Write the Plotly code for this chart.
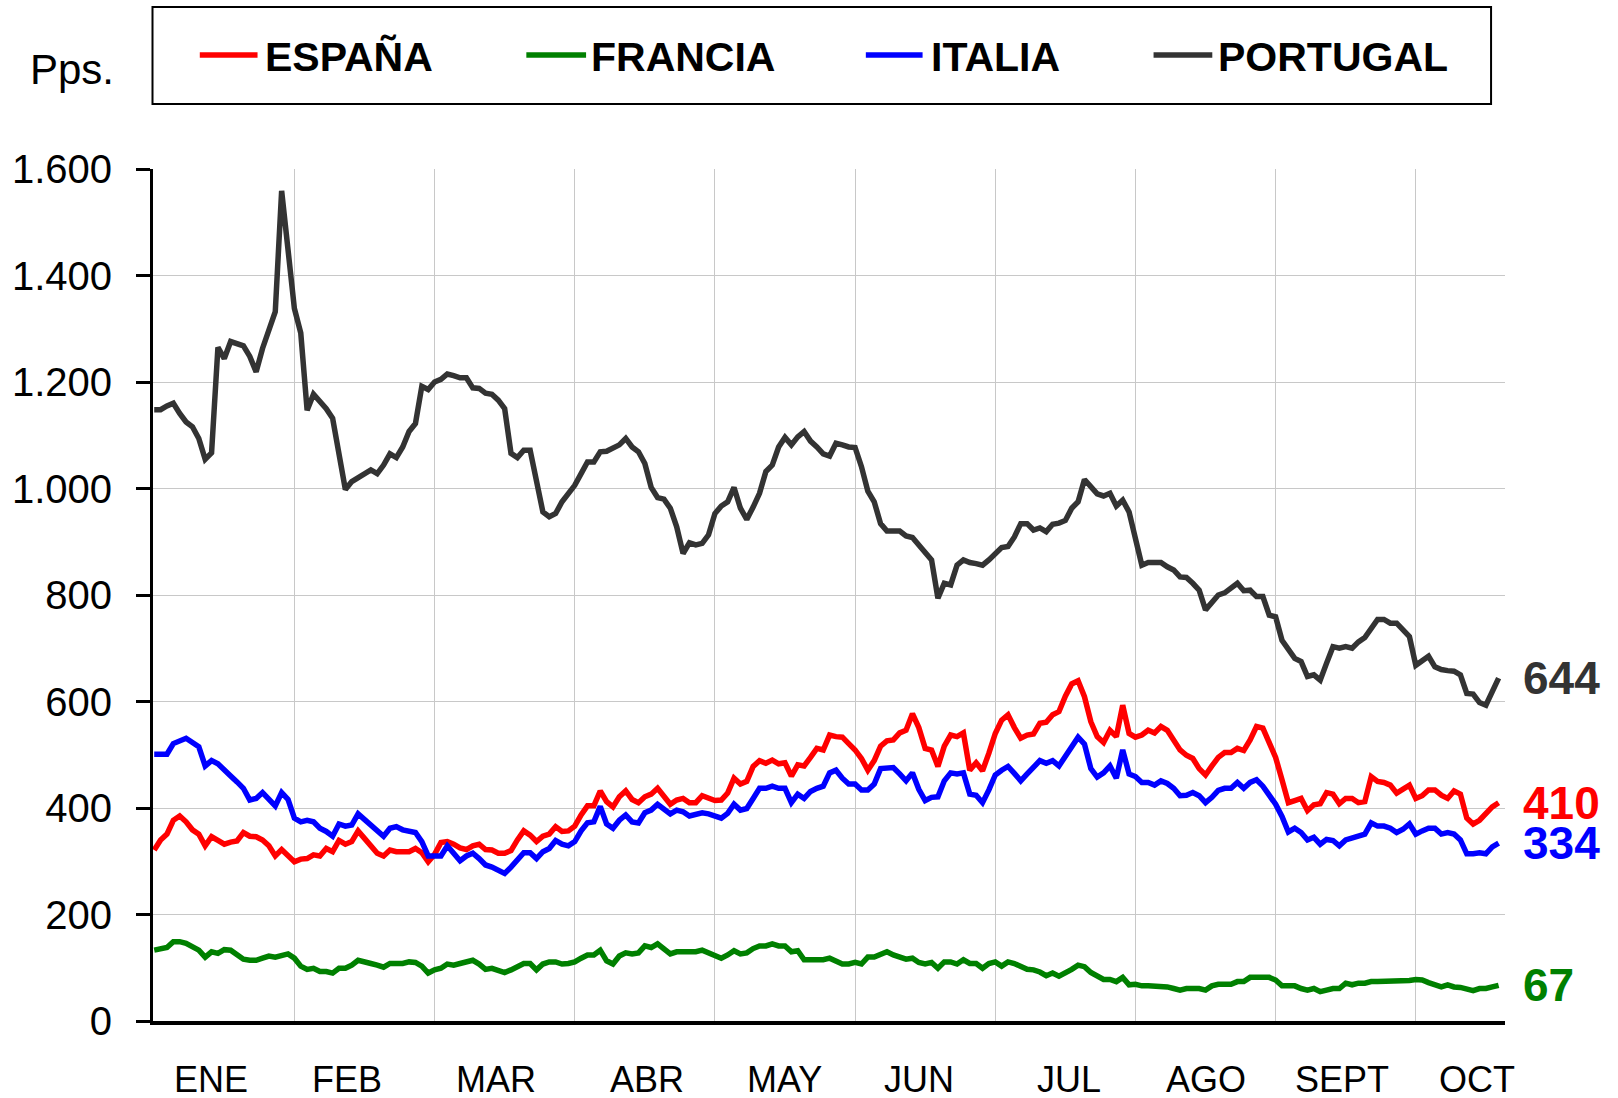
import plotly.graph_objects as go

# ---------------- data (daily closing values, Pps.) ----------------
series_names = ["ESPAÑA", "FRANCIA", "ITALIA", "PORTUGAL"]
series_colors = ["#ff0000", "#008000", "#0000ff", "#333333"]
month_labels = ["ENE", "FEB", "MAR", "ABR", "MAY", "JUN", "JUL", "AGO", "SEPT", "OCT"]
days_per_month_tick = 22  # category interval between vertical gridlines

espana = [
    321, 340, 351, 377, 385, 374, 359, 351, 329, 346,
    339, 332, 336, 338, 354, 347, 346, 340, 329, 310,
    322, 312, 299, 304, 305, 312, 310, 324, 318, 339,
    332, 337, 357, 343, 330, 315, 310, 321, 318, 318,
    318, 324, 316, 299, 313, 335, 337, 332, 325, 322,
    329, 332, 322, 321, 315, 315, 320, 340, 357, 349,
    337, 347, 351, 365, 356, 357, 366, 387, 404, 404,
    432, 412, 402, 421, 432, 416, 410, 421, 426, 437,
    421, 407, 415, 418, 410, 410, 423, 418, 414, 415,
    428, 456, 445, 450, 478, 489, 484, 490, 483, 485,
    460, 481, 479, 495, 512, 509, 537, 534, 533, 521,
    509, 493, 471, 489, 516, 526, 528, 541, 546, 577,
    551, 512, 509, 478, 516, 537, 534, 541, 471, 485,
    470, 503, 540, 565, 575, 551, 531, 537, 539, 559,
    561, 575, 581, 610, 633, 639, 609, 562, 534, 523,
    546, 534, 593, 540, 533, 537, 546, 541, 553, 546,
    529, 509, 499, 493, 474, 462, 479, 495, 504, 504,
    512, 508, 528, 553, 550, 521, 495, 453, 410, 414,
    418, 395, 406, 408, 429, 426, 408, 418, 418, 410,
    412, 459, 450, 448, 443, 428, 437, 443, 418, 423,
    434, 434, 424, 418, 432, 426, 381, 370, 377, 391,
    402, 410,
]

francia = [
    133, 136, 138, 149, 149, 146, 138, 133, 120, 130,
    127, 134, 133, 126, 116, 114, 114, 118, 122, 120,
    124, 126, 118, 103, 97, 99, 93, 93, 90, 99,
    99, 105, 114, 110, 108, 105, 101, 108, 108, 108,
    111, 110, 103, 90, 96, 99, 107, 105, 108, 110,
    114, 107, 97, 99, 94, 91, 96, 103, 108, 108,
    96, 107, 111, 111, 107, 108, 111, 118, 124, 124,
    133, 113, 107, 122, 128, 126, 128, 141, 138, 145,
    135, 126, 130, 130, 130, 130, 133, 128, 122, 118,
    124, 132, 126, 128, 136, 141, 141, 145, 141, 141,
    130, 132, 115, 115, 115, 115, 118, 113, 107, 107,
    110, 107, 120, 120, 124, 130, 124, 120, 116, 118,
    110, 107, 110, 99, 111, 111, 107, 115, 108, 108,
    99, 108, 111, 103, 111, 108, 103, 97, 96, 92,
    85, 90, 84, 90, 97, 105, 102, 91, 83, 78,
    78, 74, 82, 68, 69, 66, 66, 66, 66, 64,
    61, 58, 61, 61, 61, 58, 66, 69, 69, 69,
    74, 74, 82, 82, 82, 82, 77, 66, 66, 66,
    61, 58, 61, 55, 58, 61, 61, 71, 68, 71,
    71, 74, 74, 74, 74, 74, 74, 76, 78, 77,
    72, 68, 64, 68, 64, 63, 59, 57, 61, 61,
    64, 67,
]

italia = [
    501, 501, 501, 521, 526, 531, 523, 515, 479, 489,
    483, 470, 460, 449, 437, 415, 418, 429, 415, 404,
    429, 416, 381, 374, 377, 374, 362, 356, 347, 370,
    366, 368, 389, 379, 366, 356, 347, 362, 365, 359,
    357, 354, 337, 310, 310, 310, 329, 315, 301, 310,
    315, 305, 293, 289, 282, 277, 289, 301, 316, 316,
    305, 318, 324, 339, 332, 329, 337, 357, 372, 374,
    403, 370, 362, 377, 387, 374, 372, 391, 396, 407,
    397, 389, 396, 393, 385, 387, 391, 389, 384, 381,
    390, 407, 396, 399, 418, 437, 437, 441, 437, 437,
    410, 426, 418, 431, 437, 441, 466, 471, 456, 445,
    445, 434, 434, 445, 474, 476, 476, 464, 451, 466,
    435, 414, 420, 421, 451, 466, 464, 466, 426, 424,
    410, 434, 462, 471, 478, 465, 451, 464, 476, 489,
    484, 489, 479, 498, 514, 533, 520, 474, 458, 466,
    479, 456, 509, 464, 459, 448, 448, 443, 451, 446,
    437, 423, 424, 429, 423, 410, 420, 433, 437, 437,
    448, 437, 448, 453, 441, 426, 407, 384, 355, 362,
    354, 340, 345, 332, 341, 339, 329, 340, 343, 347,
    351, 372, 366, 366, 362, 354, 360, 370, 351, 357,
    362, 362, 351, 354, 351, 340, 314, 314, 316, 314,
    327, 334,
]

portugal = [
    1148, 1148, 1155, 1160, 1141, 1125, 1116, 1094, 1055, 1067,
    1265, 1244, 1276, 1272, 1268, 1248, 1219, 1263, 1301, 1332,
    1559, 1450, 1338, 1292, 1147, 1177, 1163, 1150, 1132, 1060,
    998, 1013, 1021, 1027, 1035, 1028, 1044, 1065, 1058, 1078,
    1107, 1122, 1192, 1186, 1200, 1205, 1215, 1212, 1208, 1208,
    1189, 1188, 1179, 1177, 1166, 1150, 1066, 1058, 1072, 1072,
    1019, 956, 947, 953, 975, 991, 1006, 1028, 1050, 1050,
    1069, 1070, 1077, 1082, 1094, 1078, 1069, 1047, 1002, 983,
    980, 963, 928, 878, 898, 894, 897, 913, 953, 967,
    975, 1002, 963, 942, 965, 991, 1032, 1044, 1078, 1096,
    1082, 1097, 1107, 1089, 1078, 1065, 1061, 1085, 1082, 1078,
    1077, 1041, 995, 975, 934, 920, 920, 920, 911, 908,
    894, 881, 866, 794, 822, 819, 856, 866, 861, 859,
    856, 866, 878, 889, 891, 909, 934, 934, 922, 926,
    919, 933, 935, 940, 963, 975, 1017, 1002, 990, 986,
    991, 967, 978, 956, 909, 856, 861, 861, 861, 853,
    847, 834, 833, 822, 809, 772, 785, 800, 804, 814,
    822, 808, 809, 797, 797, 762, 759, 715, 700, 681,
    675, 647, 650, 640, 672, 703, 700, 703, 700, 712,
    720, 737, 754, 754, 747, 747, 735, 722, 668, 678,
    685, 665, 660, 658, 657, 650, 615, 614, 598, 593,
    618, 644,
]

# ---------------- layout helpers (positions / styles) ----------------
FONT = "Arial, Liberation Sans, sans-serif"
W, H = 1618, 1098
PL, PR, PT, PB = 147, 1505, 169, 1021  # plot area in px


def px_x(px):
    return (px - PL) / (PR - PL)


def px_y(py):
    return (PB - py) / (PB - PT)


month_label_pos = [8.9, 30.3, 53.7, 77.3, 98.9, 120.0, 143.6, 165.0, 186.4, 207.6]

all_series = [espana, francia, italia, portugal]
n = len(espana)
x = list(range(n))

fig = go.Figure()
for name, color, vals in zip(series_names, series_colors, all_series):
    fig.add_trace(go.Scatter(
        x=x[:len(vals)], y=vals, mode="lines", name=name,
        line=dict(color=color, width=5.5), showlegend=False,
    ))

shapes = []
annotations = []

# legend box
shapes.append(dict(type="rect", xref="paper", yref="paper",
                   x0=px_x(146.5), x1=px_x(1491), y0=px_y(104), y1=px_y(7),
                   line=dict(color="black", width=2), fillcolor="white", layer="above"))
leg_line = [(194, 252), (522, 582), (863, 920), (1152, 1211)]
leg_text_x = [257, 585, 926, 1215]
for (a, b), tx, name, color in zip(leg_line, leg_text_x, series_names, series_colors):
    shapes.append(dict(type="line", xref="paper", yref="paper",
                       x0=px_x(a), x1=px_x(b), y0=px_y(55), y1=px_y(55),
                       line=dict(color=color, width=5.5)))
    annotations.append(dict(xref="paper", yref="paper", x=px_x(tx), y=px_y(56.5),
                            xanchor="left", yanchor="middle", showarrow=False,
                            text="<b>%s</b>" % name,
                            font=dict(family=FONT, size=41, color="black")))

# unit label
annotations.append(dict(xref="paper", yref="paper", x=px_x(21), y=px_y(69),
                        xanchor="left", yanchor="middle", showarrow=False,
                        text="Pps.", font=dict(family=FONT, size=42, color="black")))

# month labels
for lab, pos in zip(month_labels, month_label_pos):
    annotations.append(dict(xref="x", yref="paper", x=pos, y=px_y(1079),
                            xanchor="center", yanchor="middle", showarrow=False,
                            text=lab, font=dict(family=FONT, size=36, color="black")))

# last-value labels
for color, vals in zip(series_colors, all_series):
    annotations.append(dict(xref="paper", yref="y", x=px_x(1521), y=vals[-1],
                            xanchor="left", yanchor="middle", showarrow=False,
                            text="<b>%d</b>" % vals[-1],
                            font=dict(family=FONT, size=46, color=color)))

grid_vals = [days_per_month_tick * k for k in range(1, len(month_labels))]

fig.update_layout(
    width=W, height=H,
    margin=dict(l=PL, r=W - PR, t=PT, b=H - PB, pad=0),
    paper_bgcolor="white", plot_bgcolor="white",
    separators=",.",
    showlegend=False,
    shapes=shapes, annotations=annotations,
    font=dict(family=FONT, color="black"),
    xaxis=dict(range=[-0.19, 212.0], tickmode="array", tickvals=grid_vals,
               showticklabels=False, ticks="", showgrid=True,
               gridcolor="#c8c8c8", gridwidth=1.3, zeroline=False,
               showline=True, linecolor="black", linewidth=3.5),
    yaxis=dict(range=[0, 1600], tickmode="array",
               tickvals=[0, 200, 400, 600, 800, 1000, 1200, 1400, 1600],
               tickformat=",d", ticks="outside", ticklen=14, tickwidth=3,
               tickcolor="black", ticklabelstandoff=16,
               tickfont=dict(family=FONT, size=40, color="black"),
               showgrid=True, gridcolor="#c8c8c8", gridwidth=1.3,
               zeroline=False, showline=True, linecolor="black", linewidth=3),
)

fig.write_html(
    "out.html",
    config={"displayModeBar": False},
    post_script="document.body.style.margin='0px';document.body.style.padding='0px';",
)
